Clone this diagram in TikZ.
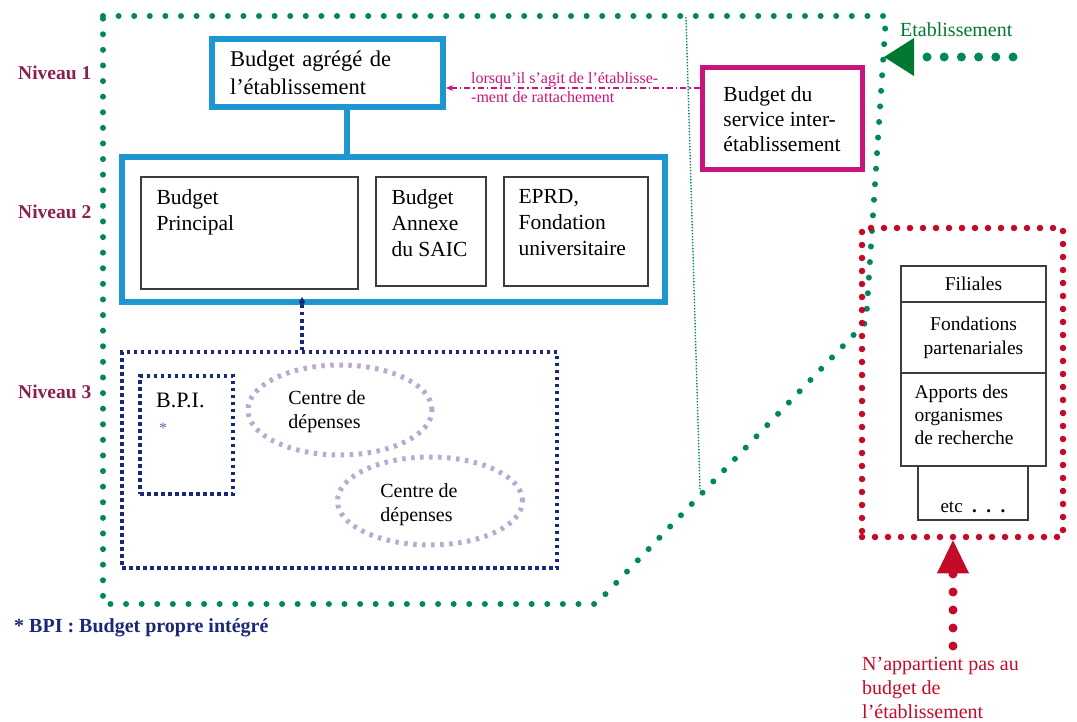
\documentclass[tikz,border=0pt]{standalone}
\usepackage{fontspec}
\setmainfont{Liberation Serif}
\usetikzlibrary{arrows.meta,shapes.geometric,calc}
\definecolor{bblue}{RGB}{30,150,210}
\definecolor{mag}{RGB}{200,20,125}
\definecolor{navyc}{RGB}{25,40,120}
\definecolor{egreen}{RGB}{0,135,90}
\definecolor{agreen}{RGB}{0,120,50}
\definecolor{rred}{RGB}{195,10,40}
\definecolor{lav}{RGB}{185,170,210}
\definecolor{niv}{RGB}{140,30,80}
\definecolor{boxgray}{RGB}{60,60,60}
\tikzset{
  fs/.style 2 args={font=\fontsize{#1}{#2}\selectfont},
  bluebox/.style={draw=bblue,line width=6pt,rectangle,inner sep=0pt},
  thinbox/.style={draw=boxgray,line width=1.3pt,rectangle,inner sep=0pt},
  txt/.style={inner sep=0pt,align=left,anchor=north west},
  gdots/.style={draw=egreen,line width=6pt,line cap=round,dash pattern=on 0pt off 15.6pt},
  rdots/.style={draw=rred,line width=6.5pt,line cap=round,dash pattern=on 0pt off 13pt},
  navdots/.style={draw=navyc,line width=4pt,dash pattern=on 3.5pt off 3.5pt},
  lavdots/.style={draw=lav,line width=5pt,dash pattern=on 3.5pt off 5.5pt},
  nivlab/.style={text=niv,font=\fontsize{19.5}{22}\selectfont\bfseries,anchor=west,inner sep=0pt},
}
\begin{document}
\begin{tikzpicture}[x=1pt,y=-1pt]
\useasboundingbox (0,0) rectangle (1077,722);

% establishment outline
\draw[gdots] (103,16) -- (886,16) -- (866,322) -- (596,604) -- (103,604) -- cycle;
\draw[egreen,line width=1.4pt,dash pattern=on 1.5pt off 1.5pt] (686,17) -- (700,490);

% level labels
\node[nivlab] (n1) at (18,73) {Niveau 1};
\node[nivlab] (n2) at (18,212) {Niveau 2};
\node[nivlab] (n3) at (18,392) {Niveau 3};

% level 1
\node[bluebox,minimum width=231pt,minimum height=68pt,text width=195pt,inner xsep=18pt,align=left,fs={22.5}{28}] (box1) at (327.5,73) {Budget agrégé de\\l’établissement};

% level 2
\node[bluebox,minimum width=543pt,minimum height=145pt] (box2) at (393.5,229.5) {};
\node[thinbox,minimum width=217pt,minimum height=112pt] (bp) at (249.5,233) {};
\node[txt,fs={21.5}{26}] (bpt) at ($(bp.north west)+(16,13)$) {Budget\\Principal};
\node[thinbox,minimum width=110pt,minimum height=109pt] (ba) at (431,231.5) {};
\node[txt,fs={21.5}{26}] (bat) at ($(ba.north west)+(16,13)$) {Budget\\Annexe\\du SAIC};
\node[thinbox,minimum width=144pt,minimum height=109pt] (ep) at (576,231.5) {};
\node[txt,fs={21.5}{26}] (ept) at ($(ep.north west)+(15,13)$) {EPRD,\\Fondation\\universitaire};

\draw[bblue,line width=6pt] (box1.south -| 347,0) -- (box2.north -| 347,0);

% service inter-etablissement
\node[draw=mag,line width=5pt,minimum width=160pt,minimum height=102pt,align=left,inner sep=0pt,fs={21.5}{25}] (mbox) at (782,119) {Budget du\\service inter-\\établissement};
\draw[mag,line width=1.5pt,dash pattern=on 6pt off 3pt on 1.5pt off 3pt,-{Stealth[length=7pt,width=6pt]}] (mbox.west |- 0,88) -- (box1.east |- 0,88);
\node[text=mag,inner sep=0pt,align=left,anchor=west,font=\fontsize{16}{19}\selectfont] (mlab) at (471,87.5) {lorsqu’il s’agit de l’établisse-\\-ment de rattachement};

% level 3
\node[navdots,rectangle,minimum width=435pt,minimum height=216pt,inner sep=0pt] (nrect) at (339.5,460) {};
\draw[navdots] (box2.south -| 302,0) -- (nrect.north -| 302,0);
\fill[navyc] (302,297) -- (305,302) -- (302,307) -- (299,302) -- cycle;
\node[navdots,rectangle,minimum width=93pt,minimum height=118pt,inner sep=0pt] (bpi) at (186.5,435) {};
\node[txt,fs={22}{24}] (bpit) at ($(bpi.north west)+(18,19)$) {B.P.I.};
\node[text=navyc!70,inner sep=0pt,fs={16}{18}] (star) at (163,428) {*};
\node[lavdots,ellipse,minimum width=184pt,minimum height=90pt,inner sep=0pt] (ce1) at (340,410) {};
\node[inner sep=0pt,align=left,fs={20}{24}] (ce1t) at (327,412) {Centre de\\dépenses};
\node[lavdots,ellipse,minimum width=185pt,minimum height=88pt,inner sep=0pt] (ce2) at (430,501) {};
\node[inner sep=0pt,align=left,fs={20}{24}] (ce2t) at (419,505) {Centre de\\dépenses};

\node[text=navyc,anchor=west,inner sep=0pt,font=\fontsize{20}{22}\selectfont\bfseries] (foot) at (14,628) {* BPI : Budget propre intégré};

% etablissement arrow
\node[text=agreen,anchor=west,inner sep=0pt,fs={20}{22}] (estl) at (900,30) {Etablissement};
\coordinate (estS) at (1013,57);
\coordinate (estE) at (884,57);
\draw[gdots,line width=9pt,dash pattern=on 0pt off 17.2pt,-{Triangle[length=30pt,width=38pt,fill=agreen,line width=0pt]}] (estS) -- (estE);

% outside the establishment
\node[rdots,rectangle,minimum width=201pt,minimum height=309pt,inner sep=0pt] (rrect) at (962.5,382.5) {};
\node[thinbox,minimum width=145pt,minimum height=36pt,fs={19.5}{22}] (fil) at (973.5,284) {Filiales};
\node[thinbox,minimum width=145pt,minimum height=71pt,align=center,fs={19.5}{24}] (fon) at (973.5,337.5) {Fondations\\partenariales};
\node[thinbox,minimum width=145pt,minimum height=93pt] (app) at (973.5,419.5) {};
\node[txt,fs={19.5}{23}] (appt) at ($(app.north west)+(14,12)$) {Apports des\\organismes\\de recherche};
\node[thinbox,minimum width=110pt,minimum height=54pt] (etc) at (973,493) {};
\node[inner sep=0pt,fs={19}{20}] (etct) at (973,507) {etc \ {\bfseries.}\ \ {\bfseries.}\ \ {\bfseries.}};

\coordinate (naS) at (953,646);
\draw[rdots,line width=9pt,dash pattern=on 0pt off 18pt,-{Triangle[length=33pt,width=32pt,fill=rred,line width=0pt]}] (naS) -- (rrect.south -| naS);
\node[text=rred,anchor=north west,inner sep=0pt,align=left,font=\fontsize{20}{24}\selectfont] (nal) at (862,657) {N’appartient pas au\\budget de\\l’établissement};
\end{tikzpicture}
\end{document}
